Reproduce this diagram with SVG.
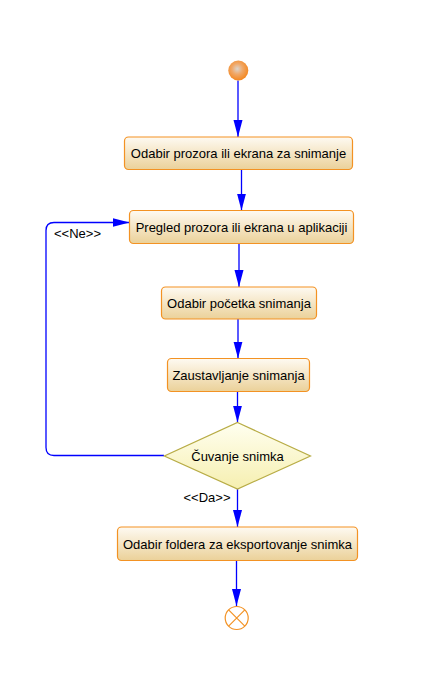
<svg xmlns="http://www.w3.org/2000/svg" width="438" height="693" viewBox="0 0 438 693">
<defs>
<linearGradient id="boxg" x1="0" y1="0" x2="0" y2="1">
<stop offset="0" stop-color="#fefaf2"/>
<stop offset="1" stop-color="#ebd199"/>
</linearGradient>
<linearGradient id="diag" x1="0" y1="0" x2="0" y2="1">
<stop offset="0" stop-color="#fffff0"/>
<stop offset="1" stop-color="#f6efb0"/>
</linearGradient>
<radialGradient id="startg" cx="0.45" cy="0.42" r="0.6">
<stop offset="0" stop-color="#dcd4cc"/>
<stop offset="0.45" stop-color="#f0a868"/>
<stop offset="1" stop-color="#f4851a"/>
</radialGradient>
<marker id="arr" markerWidth="18" markerHeight="10" refX="17" refY="4.5" orient="auto" markerUnits="userSpaceOnUse">
<path d="M0,0 L17,4.5 L0,9 Z" fill="#0000ff"/>
</marker>
<style>
.box{fill:url(#boxg);stroke:#f39223;stroke-width:1.2}
.t{font-family:"Liberation Sans",Arial,sans-serif;font-size:13px;fill:#000;text-anchor:middle}
.c{fill:none;stroke:#0000ff;stroke-width:1.3}
</style>
</defs>
<g id="connectors">
<path class="c" d="M238,80.5 V137" marker-end="url(#arr)"/>
<path class="c" d="M241.5,169.5 V210.5" marker-end="url(#arr)"/>
<path class="c" d="M239,243.5 V287" marker-end="url(#arr)"/>
<path class="c" d="M238,319 V358.5" marker-end="url(#arr)"/>
<path class="c" d="M237.5,391.5 V422.5" marker-end="url(#arr)"/>
<path class="c" d="M237.5,489 V527" marker-end="url(#arr)"/>
<path class="c" d="M236.5,560.5 V606" marker-end="url(#arr)"/>
<path class="c" d="M164,455.5 H54 Q46,455.5 46,447.5 V230.5 Q46,222.5 54,222.5 H129.5" marker-end="url(#arr)"/>
<text class="t" x="77.5" y="237.5">&lt;&lt;Ne&gt;&gt;</text>
<text class="t" x="207" y="502">&lt;&lt;Da&gt;&gt;</text>
</g>
<g id="start">
<circle cx="238.3" cy="70.5" r="10" fill="url(#startg)"/>
</g>
<g id="n1">
<rect class="box" x="124.5" y="137" width="228" height="32.5" rx="4"/>
<text class="t" x="238.5" y="158">Odabir prozora ili ekrana za snimanje</text>
</g>
<g id="n2">
<rect class="box" x="129.5" y="210.5" width="224" height="33" rx="4"/>
<text class="t" x="241.5" y="231.5">Pregled prozora ili ekrana u aplikaciji</text>
</g>
<g id="n3">
<rect class="box" x="161.5" y="287" width="155" height="32" rx="4"/>
<text class="t" x="239" y="307.5">Odabir početka snimanja</text>
</g>
<g id="n4">
<rect class="box" x="167.5" y="358.5" width="142" height="33" rx="4"/>
<text class="t" x="238.5" y="379.5">Zaustavljanje snimanja</text>
</g>
<g id="decision">
<polygon points="237.5,422.5 310.5,456 237.5,489 164.3,456" fill="url(#diag)" stroke="#b8ac45" stroke-width="1.2"/>
<text class="t" x="237.5" y="461">Čuvanje snimka</text>
</g>
<g id="n5">
<rect class="box" x="117.5" y="527" width="240" height="33.5" rx="4"/>
<text class="t" x="237.5" y="548.5">Odabir foldera za eksportovanje snimka</text>
</g>
<g id="end">
<circle cx="236.7" cy="618" r="11.5" fill="#fff" stroke="#f39223" stroke-width="1.2"/>
<path d="M228.6,609.9 L244.8,626.1 M244.8,609.9 L228.6,626.1" stroke="#f39223" stroke-width="1.2"/>
</g>
</svg>
